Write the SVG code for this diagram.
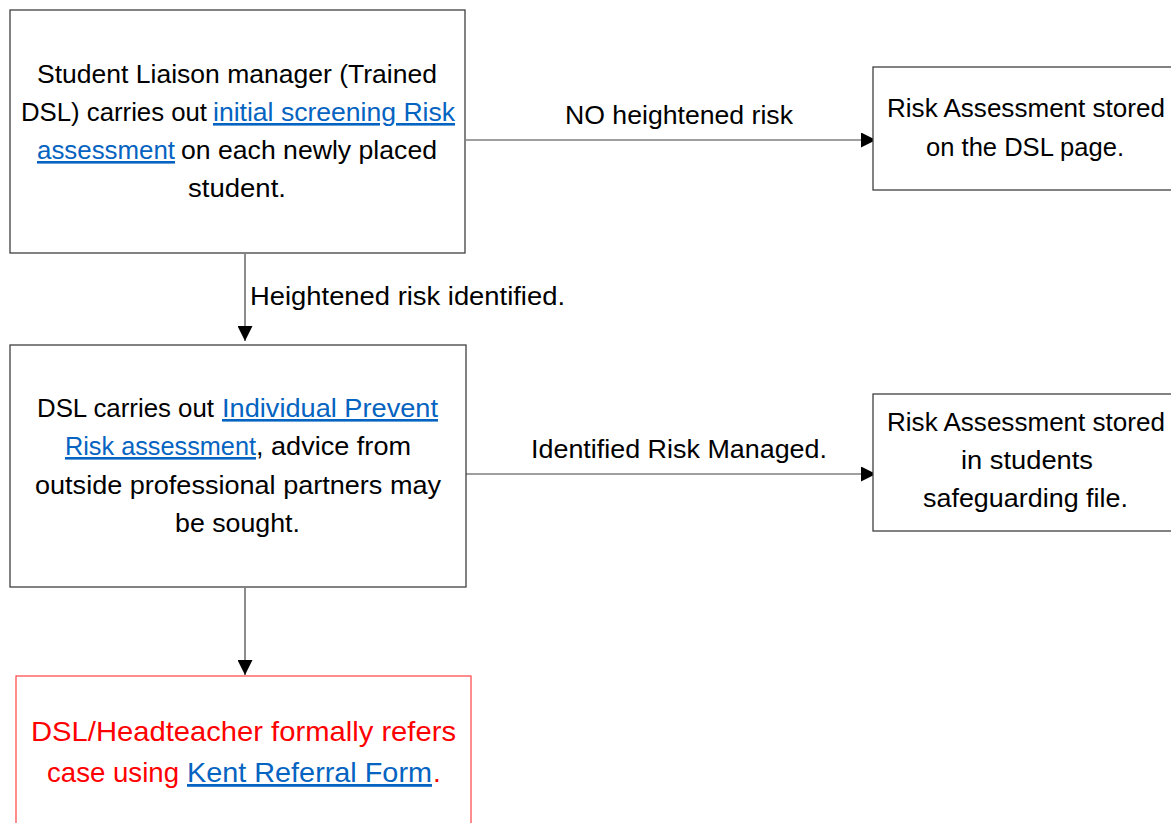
<svg xmlns="http://www.w3.org/2000/svg" width="1171" height="823" viewBox="0 0 1171 823">
<style>
.box{fill:#fff;stroke:#404040;stroke-width:1.3}
.rbox{fill:#fff;stroke:#ff5050;stroke-width:1.3}
.t{font-family:"Liberation Sans",Arial,sans-serif;font-size:26px;fill:#000}
.r{fill:#ff0000}
.l{fill:#0563C1;text-decoration:underline}
.c{stroke:#404040;stroke-width:1.2;fill:none}
</style>
<defs>
<marker id="ah" viewBox="0 0 10 10" refX="10" refY="5" markerWidth="15" markerHeight="15" markerUnits="userSpaceOnUse" orient="auto">
<path d="M0,0 L10,5 L0,10 Z" fill="#000"/>
</marker>
</defs>
<rect width="1171" height="823" fill="#fff"/>
<g id="connectors">
<line class="c" x1="466" y1="140" x2="876" y2="140" marker-end="url(#ah)"/>
<line class="c" x1="245" y1="254" x2="245" y2="341" marker-end="url(#ah)"/>
<line class="c" x1="466" y1="474" x2="876" y2="474" marker-end="url(#ah)"/>
<line class="c" x1="245" y1="588" x2="245" y2="675" marker-end="url(#ah)"/>
<text class="t" x="565" y="124" textLength="228" lengthAdjust="spacingAndGlyphs">NO heightened risk</text>
<text class="t" x="250" y="305" textLength="315" lengthAdjust="spacingAndGlyphs">Heightened risk identified.</text>
<text class="t" x="531" y="458" textLength="296" lengthAdjust="spacingAndGlyphs">Identified Risk Managed.</text>
</g>
<g id="node1">
<rect class="box" x="10" y="10" width="455" height="243"/>
<text class="t" x="37" y="83" textLength="400" lengthAdjust="spacingAndGlyphs">Student Liaison manager (Trained</text>
<text class="t" x="21" y="121" textLength="186" lengthAdjust="spacingAndGlyphs">DSL) carries out</text>
<text class="t l" x="213" y="121" textLength="242" lengthAdjust="spacingAndGlyphs">initial screening Risk</text>
<text class="t l" x="37" y="159" textLength="138" lengthAdjust="spacingAndGlyphs">assessment</text>
<text class="t" x="181" y="159" textLength="256" lengthAdjust="spacingAndGlyphs">on each newly placed</text>
<text class="t" x="188" y="197" textLength="98" lengthAdjust="spacingAndGlyphs">student.</text>
</g>
<g id="node2">
<rect class="box" x="873" y="67" width="310" height="123"/>
<text class="t" x="887" y="117" textLength="278" lengthAdjust="spacingAndGlyphs">Risk Assessment stored</text>
<text class="t" x="926" y="156" textLength="198" lengthAdjust="spacingAndGlyphs">on the DSL page.</text>
</g>
<g id="node3">
<rect class="box" x="10" y="345" width="456" height="242"/>
<text class="t" x="37" y="417" textLength="177" lengthAdjust="spacingAndGlyphs">DSL carries out</text>
<text class="t l" x="222" y="417" textLength="216" lengthAdjust="spacingAndGlyphs">Individual Prevent</text>
<text class="t l" x="65" y="455" textLength="191" lengthAdjust="spacingAndGlyphs">Risk assessment</text>
<text class="t" x="256" y="455" textLength="155" lengthAdjust="spacingAndGlyphs">, advice from</text>
<text class="t" x="35" y="494" textLength="406" lengthAdjust="spacingAndGlyphs">outside professional partners may</text>
<text class="t" x="175" y="532" textLength="125" lengthAdjust="spacingAndGlyphs">be sought.</text>
</g>
<g id="node4">
<rect class="box" x="873" y="394" width="310" height="137"/>
<text class="t" x="887" y="431" textLength="278" lengthAdjust="spacingAndGlyphs">Risk Assessment stored</text>
<text class="t" x="961" y="469" textLength="132" lengthAdjust="spacingAndGlyphs">in students</text>
<text class="t" x="923" y="507" textLength="205" lengthAdjust="spacingAndGlyphs">safeguarding file.</text>
</g>
<g id="node5">
<rect class="rbox" x="16" y="676" width="455" height="160"/>
<text class="t r" x="31" y="741" style="font-size:28px" textLength="425" lengthAdjust="spacingAndGlyphs">DSL/Headteacher formally refers</text>
<text class="t r" x="47" y="782" style="font-size:28px" textLength="132" lengthAdjust="spacingAndGlyphs">case using</text>
<text class="t l" x="187" y="782" style="font-size:28px" textLength="245" lengthAdjust="spacingAndGlyphs">Kent Referral Form</text>
<text class="t r" x="433" y="782" style="font-size:28px">.</text>
</g>
</svg>
